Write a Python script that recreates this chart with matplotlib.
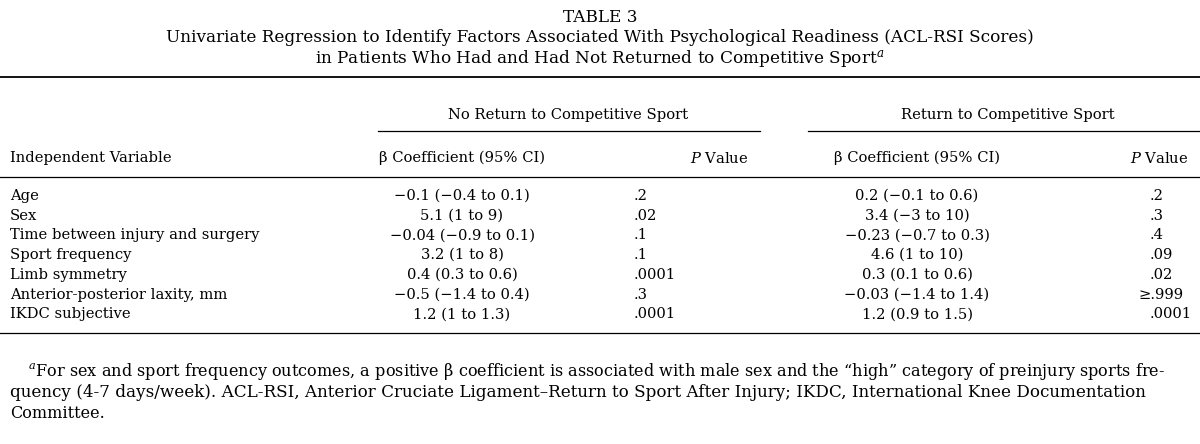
import matplotlib
matplotlib.use("Agg")
import matplotlib.pyplot as plt

variables = ["Age", "Sex", "Time between injury and surgery", "Sport frequency",
             "Limb symmetry", "Anterior-posterior laxity, mm", "IKDC subjective"]
no_return_beta = ["\u22120.1 (\u22120.4 to 0.1)", "5.1 (1 to 9)", "\u22120.04 (\u22120.9 to 0.1)",
                  "3.2 (1 to 8)", "0.4 (0.3 to 0.6)", "\u22120.5 (\u22121.4 to 0.4)", "1.2 (1 to 1.3)"]
no_return_p = [".2", ".02", ".1", ".1", ".0001", ".3", ".0001"]
return_beta = ["0.2 (\u22120.1 to 0.6)", "3.4 (\u22123 to 10)", "\u22120.23 (\u22120.7 to 0.3)",
               "4.6 (1 to 10)", "0.3 (0.1 to 0.6)", "\u22120.03 (\u22121.4 to 1.4)", "1.2 (0.9 to 1.5)"]
return_p = [".2", ".3", ".4", ".09", ".02", "\u2265.999", ".0001"]

plt.rcParams['font.family'] = ['DejaVu Serif']
plt.rcParams['mathtext.fontset'] = 'dejavuserif'
fig = plt.figure(figsize=(12, 4.44), dpi=100)
ax = fig.add_axes([0, 0, 1, 1])
ax.set_xlim(0, 1200)
ax.set_ylim(444, 0)
ax.axis('off')

fs = 10.6
tfs = 12.2
ax.text(600, 17, "TABLE 3", ha='center', va='center', fontsize=tfs)
ax.text(600, 38, "Univariate Regression to Identify Factors Associated With Psychological Readiness (ACL-RSI Scores)",
        ha='center', va='center', fontsize=tfs)
ax.text(600, 59, "in Patients Who Had and Had Not Returned to Competitive Sport$^{a}$",
        ha='center', va='center', fontsize=tfs)

ax.plot([0, 1200], [77, 77], color='black', lw=1.3)
ax.text(568, 115, "No Return to Competitive Sport", ha='center', va='center', fontsize=fs)
ax.text(1008, 115, "Return to Competitive Sport", ha='center', va='center', fontsize=fs)
ax.plot([378, 760], [131, 131], color='black', lw=0.9)
ax.plot([808, 1200], [131, 131], color='black', lw=0.9)

hy = 158
ax.text(10, hy, "Independent Variable", ha='left', va='center', fontsize=fs)
ax.text(462, hy, "\u03b2 Coefficient (95% CI)", ha='center', va='center', fontsize=fs)
ax.text(748, hy, "$\\it{P}$ Value", ha='right', va='center', fontsize=fs)
ax.text(917, hy, "\u03b2 Coefficient (95% CI)", ha='center', va='center', fontsize=fs)
ax.text(1188, hy, "$\\it{P}$ Value", ha='right', va='center', fontsize=fs)
ax.plot([0, 1200], [177, 177], color='black', lw=0.9)

y0, dy = 196, 19.7
for i, v in enumerate(variables):
    y = y0 + i * dy
    ax.text(10, y, v, ha='left', va='center', fontsize=fs)
    ax.text(462, y, no_return_beta[i], ha='center', va='center', fontsize=fs)
    ax.text(634, y, no_return_p[i], ha='left', va='center', fontsize=fs)
    ax.text(917, y, return_beta[i], ha='center', va='center', fontsize=fs)
    px = 1150 if not return_p[i].startswith("\u2265") else 1138
    ax.text(px, y, return_p[i], ha='left', va='center', fontsize=fs)
ax.plot([0, 1200], [333, 333], color='black', lw=0.9)

ffs = 11.6
ax.text(28, 371, "$^{a}$For sex and sport frequency outcomes, a positive \u03b2 coefficient is associated with male sex and the \u201chigh\u201d category of preinjury sports fre-",
        ha='left', va='center', fontsize=ffs)
ax.text(10, 392, "quency (4-7 days/week). ACL-RSI, Anterior Cruciate Ligament\u2013Return to Sport After Injury; IKDC, International Knee Documentation",
        ha='left', va='center', fontsize=ffs * 1.04)
ax.text(10, 413, "Committee.", ha='left', va='center', fontsize=ffs)

fig.savefig("out.png", dpi=100, facecolor='white')
